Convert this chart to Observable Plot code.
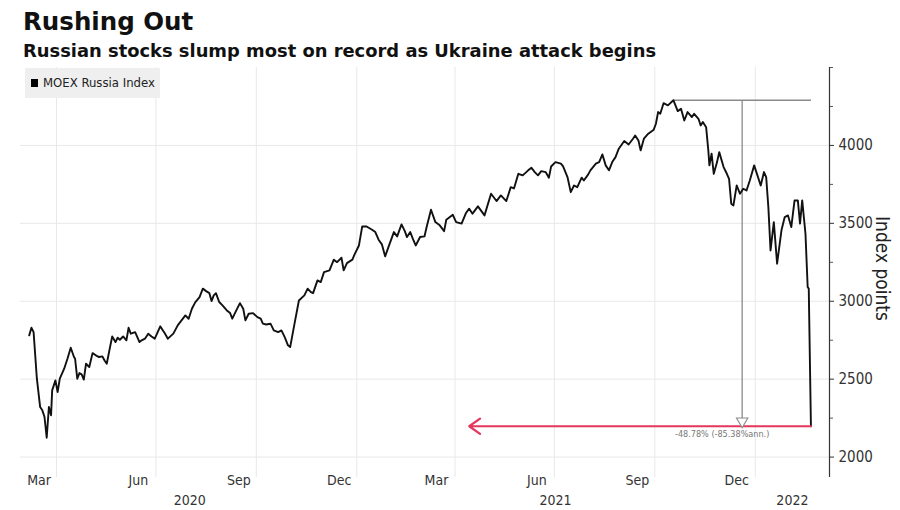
<!DOCTYPE html>
<html>
<head>
<meta charset="utf-8">
<script src="https://cdn.jsdelivr.net/npm/d3@7"></script>
<script src="https://cdn.jsdelivr.net/npm/@observablehq/plot@0.6"></script>
<style>
  body { margin: 0; background: #fff; }
  #wrap { position: relative; width: 900px; height: 510px; overflow: hidden; }
  #head { height: 62px; position: relative; }
  #title { position: absolute; left: 23px; top: 7px; font: bold 24.5px "DejaVu Sans", sans-serif; color: #111; }
  #subtitle { position: absolute; left: 23px; top: 40px; font: bold 17.9px "DejaVu Sans", sans-serif; color: #111; white-space: nowrap; }
  #legend { position: absolute; left: 25px; top: 68px; width: 135px; height: 30px; background: #efefef;
            font: 13px "DejaVu Sans Condensed", "Liberation Sans Narrow", sans-serif; font-stretch: condensed; color: #222; }
  #legend .sw { position: absolute; left: 6px; top: 11px; width: 7px; height: 8px; background: #000; }
  #legend .tx { position: absolute; left: 18px; top: 7px; white-space: nowrap; }
  svg { display: block; }
</style>
</head>
<body>
<div id="wrap">
  <div id="head">
    <div id="title">Rushing Out</div>
    <div id="subtitle">Russian stocks slump most on record as Ukraine attack begins</div>
  </div>
  <div id="chart"></div>
  <div id="legend"><div class="sw"></div><div class="tx">MOEX Russia Index</div></div>
</div>
<script>
const seriesName = "MOEX Russia Index";
const dates = [
"2020-03-07","2020-03-09","2020-03-11","2020-03-14","2020-03-17","2020-03-19","2020-03-21","2020-03-23","2020-03-25","2020-03-27",
"2020-03-28","2020-03-31","2020-04-02","2020-04-04","2020-04-06","2020-04-08","2020-04-11","2020-04-14","2020-04-17","2020-04-18",
"2020-04-20","2020-04-22","2020-04-24","2020-04-26","2020-04-28","2020-05-01","2020-05-04","2020-05-07","2020-05-10","2020-05-13",
"2020-05-15","2020-05-17","2020-05-20","2020-05-22","2020-05-25","2020-05-27","2020-05-29","2020-06-01","2020-06-04","2020-06-06",
"2020-06-08","2020-06-12","2020-06-16","2020-06-18","2020-06-21","2020-06-24","2020-06-27","2020-06-30","2020-07-05","2020-07-07",
"2020-07-09","2020-07-12","2020-07-17","2020-07-21","2020-07-28","2020-07-31","2020-08-03","2020-08-06","2020-08-10","2020-08-13",
"2020-08-16","2020-08-19","2020-08-21","2020-08-23","2020-08-25","2020-08-28","2020-08-31","2020-09-04","2020-09-07","2020-09-09",
"2020-09-13","2020-09-16","2020-09-19","2020-09-21","2020-09-24","2020-09-28","2020-10-02","2020-10-05","2020-10-07","2020-10-10",
"2020-10-14","2020-10-17","2020-10-21","2020-10-24","2020-10-27","2020-10-30","2020-11-01","2020-11-05","2020-11-09","2020-11-14",
"2020-11-17","2020-11-20","2020-11-22","2020-11-26","2020-11-29","2020-12-02","2020-12-07","2020-12-11","2020-12-14","2020-12-18",
"2020-12-20","2020-12-23","2020-12-28","2020-12-30","2021-01-03","2021-01-06","2021-01-10","2021-01-15","2021-01-18","2021-01-21",
"2021-01-24","2021-01-27","2021-01-30","2021-02-04","2021-02-07","2021-02-11","2021-02-14","2021-02-16","2021-02-19","2021-02-22",
"2021-02-24","2021-02-28","2021-03-04","2021-03-06","2021-03-10","2021-03-14","2021-03-18","2021-03-22","2021-03-24","2021-03-30",
"2021-04-02","2021-04-07","2021-04-11","2021-04-14","2021-04-17","2021-04-22","2021-04-28","2021-05-04","2021-05-09","2021-05-13",
"2021-05-18","2021-05-22","2021-05-25","2021-05-29","2021-06-02","2021-06-07","2021-06-10","2021-06-13","2021-06-16","2021-06-19",
"2021-06-23","2021-06-26","2021-06-28","2021-07-02","2021-07-07","2021-07-09","2021-07-13","2021-07-16","2021-07-19","2021-07-22",
"2021-07-26","2021-07-28","2021-08-01","2021-08-03","2021-08-08","2021-08-11","2021-08-14","2021-08-17","2021-08-20","2021-08-23",
"2021-08-26","2021-08-29","2021-09-03","2021-09-07","2021-09-11","2021-09-13","2021-09-16","2021-09-18","2021-09-21","2021-09-25",
"2021-09-30","2021-10-02","2021-10-04","2021-10-06","2021-10-09","2021-10-13","2021-10-18","2021-10-22","2021-10-25","2021-10-28",
"2021-10-31","2021-11-04","2021-11-06","2021-11-10","2021-11-12","2021-11-14","2021-11-17","2021-11-19","2021-11-20","2021-11-22",
"2021-11-24","2021-11-27","2021-11-29","2021-12-03","2021-12-06","2021-12-08","2021-12-10","2021-12-12","2021-12-15","2021-12-18",
"2021-12-21","2021-12-24","2021-12-27","2021-12-31","2022-01-03","2022-01-06","2022-01-09","2022-01-11","2022-01-13","2022-01-15",
"2022-01-18","2022-01-21","2022-01-25","2022-01-28","2022-01-31","2022-02-03","2022-02-06","2022-02-09","2022-02-11","2022-02-13",
"2022-02-16","2022-02-18","2022-02-19","2022-02-21"
];
const values = [
2781,2830,2802,2503,2321,2300,2257,2124,2321,2268,
2428,2492,2417,2503,2535,2567,2631,2702,2642,2631,
2503,2539,2531,2497,2599,2578,2667,2653,2642,2646,
2620,2599,2706,2774,2738,2766,2753,2774,2749,2830,
2792,2802,2738,2749,2760,2792,2774,2760,2839,2817,
2796,2760,2792,2845,2909,2888,2952,2993,3027,3081,
3065,3052,3001,3038,3052,2995,2973,2941,2924,2888,
2946,2988,2952,2877,2920,2924,2898,2888,2856,2851,
2856,2813,2802,2813,2770,2717,2706,2856,3005,3038,
3081,3059,3052,3134,3123,3187,3198,3267,3251,3279,
3198,3245,3267,3301,3358,3480,3480,3459,3444,3395,
3365,3288,3347,3444,3416,3493,3450,3412,3444,3390,
3358,3412,3416,3476,3587,3508,3487,3450,3523,3555,
3508,3498,3566,3594,3562,3609,3551,3690,3643,3679,
3643,3732,3724,3818,3808,3840,3857,3829,3808,3835,
3829,3793,3865,3893,3883,3865,3797,3700,3743,3732,
3793,3775,3814,3840,3883,3893,3942,3872,3840,3893,
3925,3979,4028,4006,4043,4064,4032,3968,4043,4075,
4101,4139,4214,4203,4271,4257,4290,4220,4235,4160,
4214,4182,4203,4171,4128,4150,4117,3968,3872,3947,
3818,3893,3957,3861,3818,3786,3626,3615,3743,3690,
3722,3711,3775,3872,3808,3743,3829,3797,3604,3326,
3508,3241,3455,3540,3551,3476,3647,3647,3498,3647,
3433,3091,3081,2198
];
const xDomain = ["2020-02-28", "2022-03-10"];
const yDomain = [1869, 4500];
const yTicks = [2000, 2500, 3000, 3500, 4000];
const yMinorTicks = [2250, 2750, 3250, 3750, 4250, 4500];
const gridDates = ["2020-04-01","2020-07-01","2020-10-01","2021-01-01","2021-04-01","2021-07-01","2021-10-01","2022-01-01"];
const monthTicks = ["2020-03-16","2020-06-15","2020-09-15","2020-12-16","2021-03-15","2021-06-15","2021-09-15","2021-12-15"];
const monthLabels = ["Mar","Jun","Sep","Dec","Mar","Jun","Sep","Dec"];
const yearTicks = ["2020-08-01","2021-07-02","2022-02-04"];
const yearLabels = ["2020","2021","2022"];
const yLabel = "Index points";
const arrowStart = "2021-04-14";
const changeLabel = "-48.78% (-85.38%ann.)";

const data = dates.map((d, i) => ({date: new Date(d), value: values[i]}));
const peak = data.reduce((a, b) => (b.value > a.value ? b : a));
const last = data[data.length - 1];
const mid = new Date((peak.date.getTime() + last.date.getTime()) / 2);
const cond = '"DejaVu Sans Condensed", "Liberation Sans Narrow", sans-serif';

const chart = Plot.plot({
  width: 900,
  height: 448,
  marginTop: 5,
  marginBottom: 33,
  marginLeft: 20,
  marginRight: 71,
  style: {fontFamily: cond, fontStretch: "condensed", color: "#333", background: "#fff"},
  x: {type: "utc", domain: xDomain.map(d => new Date(d)), axis: null},
  y: {domain: yDomain, axis: null},
  marks: [
    Plot.gridY(yTicks, {stroke: "#e8e8e8", strokeOpacity: 1}),
    Plot.gridX(gridDates.map(d => new Date(d)), {stroke: "#e8e8e8", strokeOpacity: 1}),
    Plot.ruleX([new Date(xDomain[1])], {stroke: "#333", strokeWidth: 1.2}),
    Plot.axisY({anchor: "right", ticks: yTicks, tickSize: 4, tickPadding: 5, fontSize: 15, label: null,
      tickFormat: d3.format("d"), stroke: "#333", fill: "#333"}),
    Plot.axisY({anchor: "right", ticks: yMinorTicks, tickSize: 3, tickFormat: () => "", label: null, stroke: "#555"}),
    Plot.text(monthTicks.map((d, i) => ({date: new Date(d), label: monthLabels[i]})),
      {x: "date", text: "label", frameAnchor: "bottom", lineAnchor: "top", dy: -2, fontSize: 14, fill: "#333"}),
    Plot.text(yearTicks.map((d, i) => ({date: new Date(d), label: yearLabels[i]})),
      {x: "date", text: "label", frameAnchor: "bottom", lineAnchor: "top", dy: 18, fontSize: 14, fill: "#333"}),
    Plot.text([yLabel], {frameAnchor: "right", textAnchor: "middle", dx: 53, dy: -4, rotate: 90, fontSize: 19, fill: "#222",
      fontFamily: "DejaVu Sans, sans-serif", fontStretch: "normal"}),
    Plot.link([0], {x1: () => peak.date, x2: () => last.date, y1: () => peak.value, y2: () => peak.value, stroke: "#8a8a8a", strokeWidth: 1.3}),
    Plot.link([0], {x1: () => mid, x2: () => mid, y1: () => peak.value, y2: () => last.value, stroke: "#8a8a8a", strokeWidth: 1.3}),
    Plot.line(data, {x: "date", y: "value", stroke: "#111", strokeWidth: 1.9, curve: "linear"}),
    Plot.arrow([0], {x1: () => last.date, x2: () => new Date(arrowStart), y1: () => last.value, y2: () => last.value,
      stroke: "#e3375c", strokeWidth: 2.2, headLength: 9, headAngle: 70, inset: 0}),
    Plot.dot([0], {x: () => mid, y: () => last.value, symbol: "triangle", rotate: 180, r: 4.2, dy: -5, stroke: "#8a8a8a", fill: "#fff", strokeWidth: 1.1}),
    Plot.text([changeLabel], {x: () => mid, y: () => last.value, dx: -20, dy: 8, fontSize: 9, fill: "#777",
      fontFamily: "DejaVu Sans, sans-serif", fontStretch: "normal"})
  ]
});
document.getElementById("chart").appendChild(chart);
</script>
</body>
</html>
